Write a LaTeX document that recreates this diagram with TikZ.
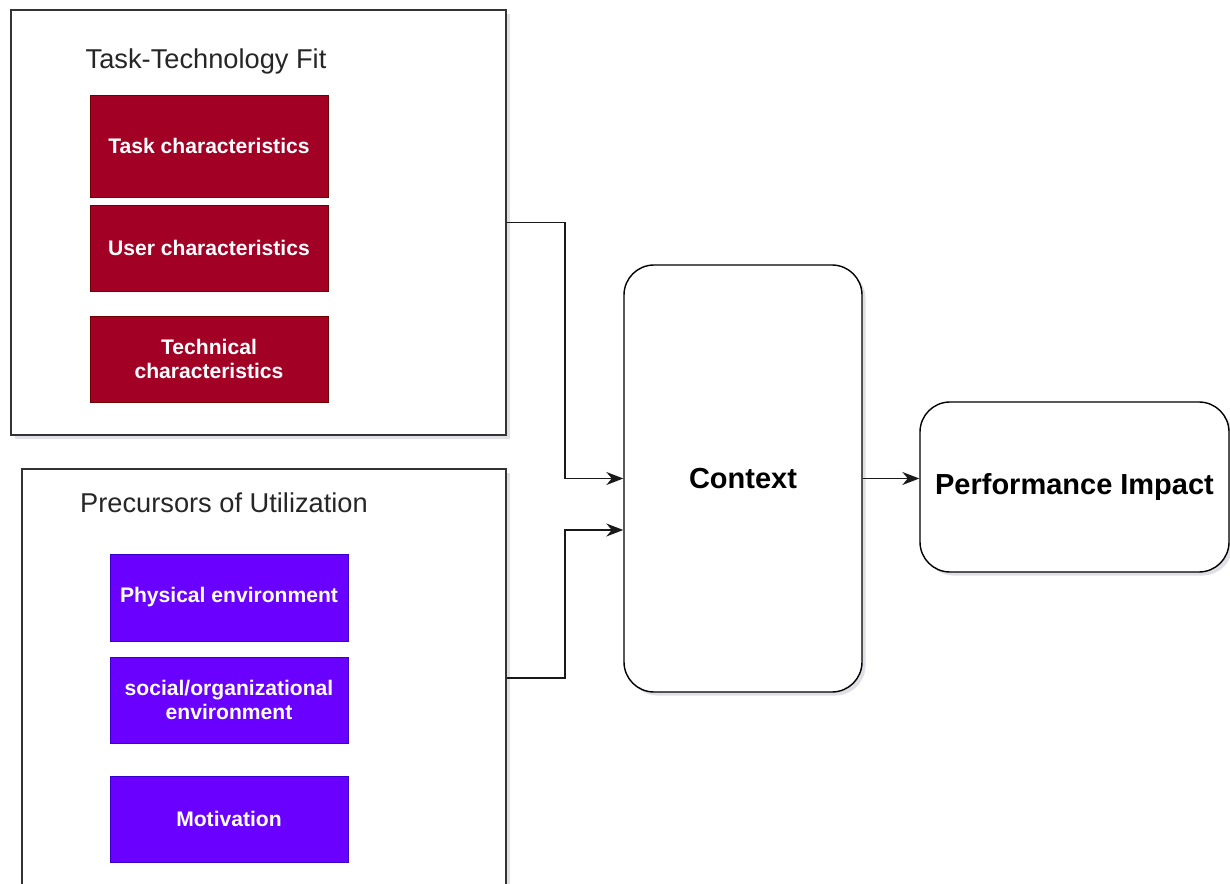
\documentclass[tikz,border=0pt]{standalone}
\usepackage{fontspec}
\setmainfont{Liberation Sans}
\usepackage{tikz}
\usetikzlibrary{arrows.meta,shadows,positioning}
\definecolor{ttfred}{HTML}{A20025}
\definecolor{ttfline}{HTML}{6F0000}
\definecolor{pouviolet}{HTML}{6A00FF}
\definecolor{pouline}{HTML}{3700CC}
\tikzset{
	outerbox/.style={rectangle, draw=black!80, line width=1pt, fill=white, inner sep=0pt,
		drop shadow={shadow xshift=2pt, shadow yshift=-2pt, opacity=0.25, fill=blue!20!black!50}},
	redbox/.style={rectangle, draw=ttfline, fill=ttfred, line width=0.4pt, text=white, align=center,
		minimum width=4.76cm, inner sep=0pt, font=\bfseries\fontsize{12}{13.7}\selectfont},
	violetbox/.style={rectangle, draw=pouline, fill=pouviolet, line width=0.4pt, text=white, align=center,
		minimum width=4.76cm, inner sep=0pt, font=\bfseries\fontsize{12}{13.7}\selectfont},
	roundbox/.style={rectangle, rounded corners=0.6cm, draw=black, line width=0.8pt, fill=white, inner sep=0pt,
		font=\bfseries\fontsize{16.5}{19}\selectfont,
		drop shadow={shadow xshift=2pt, shadow yshift=-2pt, opacity=0.25, fill=blue!20!black!50}},
	boxtitle/.style={text=black!85, inner sep=0pt, font=\fontsize{15.5}{18}\selectfont},
	conn/.style={draw=black!90, line width=0.9pt},
	arrowconn/.style={conn, -{Stealth[length=3.4mm, width=2.6mm, inset=1.1mm]}}
}
\begin{document}
\begin{tikzpicture}
			\useasboundingbox (0,0) rectangle (24.6,17.66);
			
			% Task-Technology Fit
			\node[outerbox, minimum width=9.9cm, minimum height=8.5cm] (ttf) at (5.17,13.21) {};
			\node[boxtitle] (ttftitle) at (4.12,16.44) {Task-Technology Fit};
			\node[redbox, minimum height=2.04cm] (taskchar) at (4.18,14.74) {Task characteristics};
			\node[redbox, minimum height=1.72cm] (userchar) at (4.18,12.70) {User characteristics};
			\node[redbox, minimum height=1.72cm] (techchar) at (4.18,10.48) {Technical\\characteristics};
			
			% Precursors of Utilization
			\node[outerbox, minimum width=9.68cm, minimum height=8.36cm] (pou) at (5.28,4.10) {};
			\node[boxtitle] (poutitle) at (4.48,7.60) {Precursors of Utilization};
			\node[violetbox, minimum height=1.74cm] (physenv) at (4.58,5.71) {Physical environment};
			\node[violetbox, minimum height=1.72cm] (socenv) at (4.58,3.66) {social/organizational\\environment};
			\node[violetbox, minimum height=1.72cm] (motiv) at (4.58,1.28) {Motivation};
			
			\node[roundbox, minimum width=4.76cm, minimum height=8.54cm] (context) at (14.86,8.09) {Context};
			\node[roundbox, minimum width=6.18cm, minimum height=3.4cm] (perf) at (21.49,7.92) {Performance Impact};
			
			\coordinate (j1) at (11.3,8.09);
			\coordinate (j2) at (11.3,7.06);
			\draw[arrowconn] (ttf.east) -| (j1) -- (context.west);
			\draw[arrowconn] (pou.east) -| (j2) -- (j2 -| context.west);
			\draw[arrowconn] (context.east) -- (context.east -| perf.west);
\end{tikzpicture}
\end{document}
